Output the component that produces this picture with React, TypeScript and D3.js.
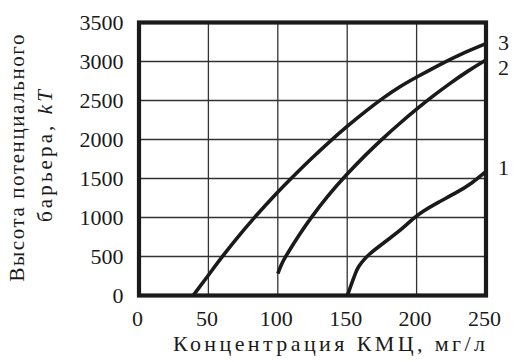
import React from "react";
import * as d3 from "d3";

// Concentration of CMC, mg/l (x) vs. potential barrier height, kT (y)
const curve1X = [150, 151, 152.5, 154.5, 156, 158, 162, 166, 170, 180, 190, 198, 204, 215, 228, 240, 250];
const curve1Y = [0, 40, 120, 215, 290, 370, 460, 530, 590, 725, 860, 995, 1075, 1190, 1310, 1440, 1590];

const curve2X = [100, 103, 107, 115, 124, 136, 150, 163, 176, 188, 200, 212, 224, 237, 250];
const curve2Y = [280, 420, 540, 770, 1000, 1280, 1560, 1800, 2020, 2210, 2390, 2560, 2720, 2880, 3020];

const curve3X = [39, 50, 60, 70, 82, 100, 110, 125, 138, 150, 163, 176, 188, 200, 215, 231, 250];
const curve3Y = [0, 260, 500, 725, 980, 1330, 1510, 1770, 1985, 2170, 2360, 2535, 2680, 2800, 2945, 3090, 3230];

const curveNames = ["1", "2", "3"];

const xTicks = [0, 50, 100, 150, 200, 250];
const yTicks = [0, 500, 1000, 1500, 2000, 2500, 3000, 3500];

const xTitle = "Концентрация КМЦ,  мг/л";
const yTitleLine1 = "Высота потенциального";
const yTitleLine2 = "барьера, ";
const yTitleUnit = "kT";

const W = 515;
const H = 362;
const ink = "#1a1a1a";
const face = "Times";

export default function App() {
  const x = d3.scaleLinear().domain([0, 250]).range([139, 486]);
  const y = d3.scaleLinear().domain([0, 3500]).range([295.5, 22.5]);

  const line = d3
    .line<[number, number]>()
    .x((d) => x(d[0]))
    .y((d) => y(d[1]))
    .curve(d3.curveBasis);

  const series = [
    { xs: curve1X, ys: curve1Y },
    { xs: curve2X, ys: curve2Y },
    { xs: curve3X, ys: curve3Y },
  ];

  // baseline of each curve number, next to the curve's end
  const labelBaseline = [175, 75, 50];
  const tf = { fontFamily: face };

  return (
    <svg width={W} height={H} style={{ position: "absolute", left: 0, top: 0, fontFamily: face }}>
      <rect x={0} y={0} width={W} height={H} fill="#fff" />

      {/* grid */}
      {xTicks.slice(1, -1).map((t) => (
        <line key={"gx" + t} x1={x(t)} x2={x(t)} y1={y(3500)} y2={y(0)} stroke="#333" strokeWidth={1.3} />
      ))}
      {yTicks.slice(1, -1).map((t) => (
        <line key={"gy" + t} x1={x(0)} x2={x(250)} y1={y(t)} y2={y(t)} stroke="#333" strokeWidth={1.3} />
      ))}

      {/* curves */}
      {series.map((s, i) => (
        <path
          key={"c" + i}
          d={line(s.xs.map((v, j) => [v, s.ys[j]] as [number, number])) || ""}
          fill="none"
          stroke={ink}
          strokeWidth={3.6}
          strokeLinejoin="round"
        />
      ))}

      {/* frame */}
      <rect
        x={x(0)}
        y={y(3500)}
        width={x(250) - x(0)}
        height={y(0) - y(3500)}
        fill="none"
        stroke={ink}
        strokeWidth={4.2}
      />

      {/* y tick labels */}
      {yTicks.map((t) => (
        <text key={"ty" + t} x={123.5} y={y(t) + 7} textAnchor="end" fontSize={22} fill={ink} style={tf}>
          {t}
        </text>
      ))}

      {/* x tick labels */}
      {xTicks.map((t) => (
        <text key={"tx" + t} x={x(t) - 1.5} y={326} textAnchor="middle" fontSize={22} fill={ink} style={tf}>
          {t}
        </text>
      ))}

      {/* curve numbers */}
      {curveNames.map((n, i) => (
        <text key={"n" + n} x={498} y={labelBaseline[i]} fontSize={22} fill={ink} style={tf}>
          {n}
        </text>
      ))}

      {/* axis titles */}
      <text x={329} y={351} textAnchor="middle" fontSize={22} fill={ink} style={tf} textLength={312} lengthAdjust="spacing">
        {xTitle}
      </text>
      <text
        transform="translate(24,158) rotate(-90)"
        textAnchor="middle"
        fontSize={21}
        fill={ink}
        style={tf}
        textLength={247}
        lengthAdjust="spacing"
      >
        {yTitleLine1}
      </text>
      <text
        transform="translate(52,156) rotate(-90)"
        textAnchor="middle"
        fontSize={21}
        fill={ink}
        style={tf}
        textLength={132}
        lengthAdjust="spacing"
      >
        {yTitleLine2}
        <tspan fontStyle="italic">{yTitleUnit}</tspan>
      </text>
    </svg>
  );
}
